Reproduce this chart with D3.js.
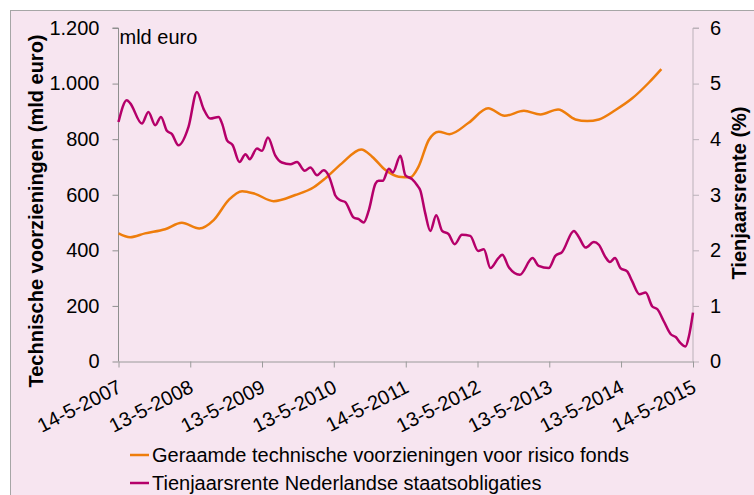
<!DOCTYPE html>
<html>
<head>
<meta charset="utf-8">
<script src="https://cdn.jsdelivr.net/npm/d3@7"></script>
<style>
  html, body { margin: 0; padding: 0; background: #fff; }
  svg { display: block; font-family: "Liberation Sans", Arial, sans-serif; }
</style>
</head>
<body>
<div id="chart"></div>
<script>
// data
var techDates = ["2007-05-14","2007-07-12","2007-09-26","2008-01-06","2008-03-31","2008-06-28",
  "2008-09-09","2008-11-24","2009-02-01","2009-04-08","2009-07-11","2009-10-29","2010-01-31",
  "2010-03-31","2010-06-23","2010-09-30","2010-11-24","2011-01-31","2011-04-08","2011-06-06",
  "2011-07-18","2011-09-08","2011-10-29","2011-12-22","2012-03-29","2012-07-06","2012-09-28",
  "2013-01-04","2013-03-29","2013-06-27","2013-09-23","2013-11-22","2014-01-20","2014-04-15",
  "2014-07-09","2014-10-01","2014-12-04"];
var techValues = [461,447,461,476,499,479,509,581,613,603,577,599,627,659,713,763,737,689,665,663,
  701,797,827,818,859,911,884,902,889,907,871,865,871,905,947,1003,1052];

var rateDates = ["2007-05-14","2007-06-25","2007-07-12","2007-09-10","2007-10-13","2007-11-17",
  "2007-12-16","2008-01-15","2008-02-10","2008-03-14","2008-05-04","2008-06-16","2008-07-19",
  "2008-08-23","2008-10-04","2008-10-22","2008-11-16","2008-12-15","2009-01-18","2009-02-18",
  "2009-03-11","2009-04-17","2009-05-13","2009-06-12","2009-07-19","2009-08-22","2009-10-04",
  "2009-11-07","2009-12-16","2010-01-14","2010-02-17","2010-03-22","2010-04-16","2010-05-12",
  "2010-05-20","2010-06-15","2010-07-10","2010-08-22","2010-09-17","2010-10-12","2010-11-07",
  "2010-12-11","2010-12-27","2011-01-17","2011-02-17","2011-03-09","2011-04-17","2011-05-12",
  "2011-06-15","2011-07-11","2011-07-27","2011-08-21","2011-09-16","2011-10-16","2011-11-15",
  "2011-12-18","2012-01-18","2012-02-24","2012-04-06","2012-05-16","2012-06-14","2012-07-18",
  "2012-08-27","2012-09-16","2012-10-20","2012-12-14","2013-02-17","2013-03-20","2013-05-10",
  "2013-06-13","2013-07-17","2013-09-15","2013-10-10","2013-11-14","2013-12-26","2014-01-20",
  "2014-02-24","2014-03-17","2014-04-12","2014-05-10","2014-06-13","2014-07-09","2014-08-15",
  "2014-09-15","2014-10-19","2014-11-14","2014-12-17","2015-01-21","2015-02-15","2015-03-12",
  "2015-04-06","2015-04-23","2015-05-14"];
var rateValues = [4.31,4.70,4.65,4.28,4.49,4.25,4.40,4.15,4.09,3.89,4.22,4.85,4.55,4.37,4.40,4.28,
  3.98,3.89,3.59,3.73,3.64,3.83,3.79,4.03,3.71,3.58,3.55,3.59,3.43,3.49,3.35,3.44,3.35,3.08,2.99,
  2.90,2.87,2.59,2.56,2.50,2.72,3.20,3.25,3.25,3.47,3.40,3.70,3.35,3.28,3.17,3.08,2.67,2.35,2.63,
  2.35,2.29,2.11,2.28,2.26,1.99,2.02,1.68,1.86,1.92,1.69,1.56,1.86,1.72,1.68,1.90,1.97,2.35,2.24,
  2.05,2.15,2.10,1.87,1.79,1.86,1.68,1.62,1.44,1.21,1.24,0.99,0.94,0.72,0.49,0.44,0.33,0.27,0.45,0.88];

var xTickLabels = ["14-5-2007","13-5-2008","13-5-2009","13-5-2010","14-5-2011",
  "13-5-2012","13-5-2013","13-5-2014","14-5-2015"];
var leftTicks = [0, 200, 400, 600, 800, 1000, 1200];
var rightTicks = [0, 1, 2, 3, 4, 5, 6];
var seriesNames = ["Geraamde technische voorzieningen voor risico fonds",
  "Tienjaarsrente Nederlandse staatsobligaties"];
var colors = ["#ee7d0c", "#b5006a"];

var width = 754, height = 495;
var plotLeft = 118.5, plotRight = 693, plotTop = 28, plotBottom = 361.5;

var parseDate = d3.timeParse("%Y-%m-%d");
var parseTick = d3.timeParse("%d-%m-%Y");
var nl = d3.formatLocale({decimal: ",", thousands: ".", grouping: [3], currency: ["€", ""]});

var svg = d3.select("#chart").append("svg")
  .attr("width", width)
  .attr("height", height);

// chart area background + border
svg.append("rect")
  .attr("x", 10.5).attr("y", 10.5)
  .attr("width", 800).attr("height", 600)
  .attr("fill", "#f7e5f0")
  .attr("stroke", "#a6a6a6");

var tickDates = xTickLabels.map(parseTick);

var xScale = d3.scaleTime()
  .domain([tickDates[0], tickDates[tickDates.length - 1]])
  .range([plotLeft, plotRight]);

var yLeft = d3.scaleLinear().domain([0, 1200]).range([plotBottom, plotTop]);
var yRight = d3.scaleLinear().domain([0, 6]).range([plotBottom, plotTop]);

// axes
var gLeft = svg.append("g")
  .attr("transform", "translate(" + plotLeft + ",0)")
  .call(d3.axisLeft(yLeft).tickValues(leftTicks).tickFormat(nl.format(",d")).tickSize(6).tickPadding(13));

var gRight = svg.append("g")
  .attr("transform", "translate(" + plotRight + ",0)")
  .call(d3.axisRight(yRight).tickValues(rightTicks).tickFormat(d3.format("d")).tickSize(6).tickPadding(11));

var gBottom = svg.append("g")
  .attr("transform", "translate(0," + plotBottom + ")")
  .call(d3.axisBottom(xScale).tickValues(tickDates)
    .tickFormat(function(d, i) { return xTickLabels[i]; }).tickSize(6).tickSizeOuter(0));

[gLeft, gRight, gBottom].forEach(function(g) {
  g.selectAll("text").attr("font-size", 20).attr("fill", "#000")
    .attr("font-family", "'Liberation Sans', Arial, sans-serif");
});
gLeft.selectAll("path, line").attr("stroke", "#8f8f8f");
gBottom.selectAll("path, line").attr("stroke", "#9a9a9a");
gRight.selectAll("path, line").attr("stroke", "#bbb1b9");
gLeft.select("path").attr("d", "M-6," + plotTop + "H0V" + plotBottom);
gRight.select("path").attr("d", "M6," + plotTop + "H0V" + plotBottom);

gBottom.selectAll("text")
  .attr("text-anchor", "end")
  .attr("dy", null)
  .attr("y", 0)
  .attr("transform", "translate(4,30) rotate(-27)");

// lines
var techLine = d3.line()
  .x(function(d) { return xScale(d[0]); })
  .y(function(d) { return yLeft(d[1]); })
  .curve(d3.curveMonotoneX);

var rateLine = d3.line()
  .x(function(d) { return xScale(d[0]); })
  .y(function(d) { return yRight(d[1]); })
  .curve(d3.curveMonotoneX);

var techData = techDates.map(function(d, i) { return [parseDate(d), techValues[i]]; });
var rateData = rateDates.map(function(d, i) { return [parseDate(d), rateValues[i]]; });

svg.append("path")
  .datum(techData)
  .attr("d", techLine)
  .attr("fill", "none")
  .attr("stroke", colors[0])
  .attr("stroke-width", 2.5);

svg.append("path")
  .datum(rateData)
  .attr("d", rateLine)
  .attr("fill", "none")
  .attr("stroke", colors[1])
  .attr("stroke-width", 2.5);

// unit label in plot
svg.append("text")
  .attr("x", plotLeft + 1).attr("y", 44)
  .attr("font-size", 20)
  .text("mld euro");

// axis titles
svg.append("text")
  .attr("transform", "translate(43,211) rotate(-90)")
  .attr("text-anchor", "middle")
  .attr("font-size", 20)
  .attr("font-weight", "bold")
  .text("Technische voorzieningen (mld euro)");

svg.append("text")
  .attr("transform", "translate(746,193) rotate(-90)")
  .attr("text-anchor", "middle")
  .attr("font-size", 20)
  .attr("font-weight", "bold")
  .text("Tienjaarsrente (%)");

// legend
var legend = svg.append("g");
seriesNames.forEach(function(name, i) {
  var y = 455 + i * 28;
  legend.append("line")
    .attr("x1", 130).attr("x2", 149)
    .attr("y1", y).attr("y2", y)
    .attr("stroke", colors[i])
    .attr("stroke-width", 2.5);
  legend.append("text")
    .attr("x", 152).attr("y", y + 7)
    .attr("font-size", 20)
    .text(name);
});
</script>
</body>
</html>
